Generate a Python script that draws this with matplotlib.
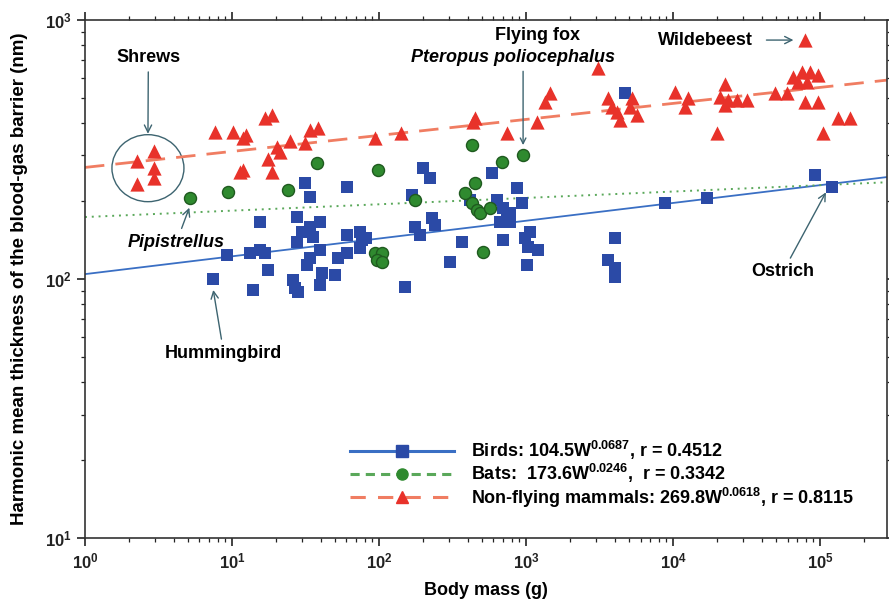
import matplotlib
matplotlib.use("Agg")
import matplotlib.pyplot as plt
from matplotlib.lines import Line2D
from matplotlib.patches import Ellipse
from matplotlib.transforms import ScaledTranslation
import numpy as np

plt.rcParams['font.family'] = ['Liberation Sans', 'DejaVu Sans']
plt.rcParams['font.weight'] = 'bold'
plt.rcParams['mathtext.default'] = 'regular'

# body mass (g) and barrier thickness (nm)
bird_mass = [31.4, 33.9, 60.5, 199, 222, 168, 416, 15.5, 27.7, 39.7, 33.9, 29.9, 35.6, 27.7,
             39.7, 33.9, 32.4, 9.2, 13.3, 15.5, 16.8, 60.5, 74.3, 81.6, 74.3, 60.5, 52.6, 76.6,
             176, 230, 240, 190, 367, 17.6, 40.9, 50.2, 304, 7.4, 13.9, 26.0, 26.8, 28.0, 39.7,
             150, 4710, 587, 869, 635, 698, 778, 939, 665, 778, 743, 698, 985, 1065, 1032, 1207,
             1016, 4030, 3614, 4030, 4030, 8830, 17030, 92500, 120700]
bird_thick = [235, 207, 226, 268, 246, 211, 202, 166, 173, 166, 159, 152, 145, 139,
              129, 121, 113, 124, 126, 129, 126, 148, 152, 144, 132, 126, 121, 141,
              159, 172, 162, 148, 139, 108, 106, 104, 116, 100, 91, 99, 92, 89, 95,
              93, 523, 256, 224, 202, 188, 180, 197, 166, 166, 173, 141, 144, 152, 133, 129,
              113, 144, 118, 110, 102, 197, 206, 252, 226]

bat_mass = [5.2, 9.4, 24.0, 37.8, 98.4, 430, 687, 954, 450, 385, 176, 430, 464, 486, 569,
            94, 104.8, 96.9, 104.8, 510]
bat_thick = [206, 217, 221, 281, 264, 329, 283, 301, 235, 215, 202, 197, 185, 180, 188,
             126, 126, 118, 116, 127]

mam_mass = [2.26, 2.95, 2.95, 2.95, 2.26, 7.7, 10.2, 12.5, 11.9, 16.8, 18.7, 33.9, 38.5, 24.8,
            20.2, 21.2, 31.4, 17.6, 11.3, 11.9, 18.7, 94, 141, 436, 450, 743, 1189, 1455, 1346,
            3090, 3614, 3845, 4158, 4356, 5262, 5690, 5097, 10320, 12650, 12070, 19910, 22590,
            20890, 23660, 27230, 31840, 22590, 49400, 59700, 65500, 75500, 85500, 96900, 70800,
            81600, 79100, 96900, 104800, 132500, 160000, 79100]
mam_thick = [285, 312, 268, 246, 233, 370, 370, 360, 350, 419, 430, 376, 383, 341,
             323, 309, 335, 291, 259, 264, 259, 350, 366, 404, 419, 366, 404, 523, 482,
             653, 500, 461, 442, 411, 500, 430, 461, 527, 500, 461, 366, 566,
             505, 491, 491, 491, 470, 523, 523, 603, 630, 630, 614, 576,
             576, 482, 482, 366, 419, 419, 837]

# allometric fits  a * W^b
fit_a = [104.5, 173.6, 269.8]
fit_b = [0.0687, 0.0246, 0.0618]
fit_labels = [r'Birds: 104.5W$^{0.0687}$, r = 0.4512',
              r'Bats:  173.6W$^{0.0246}$,  r = 0.3342',
              r'Non-flying mammals: 269.8W$^{0.0618}$, r = 0.8115']

blue = '#2b4aa6'
green = '#2f8a2f'
red = '#e8322a'
line_cols = ['#3a6fc4', '#5aa85a', '#f07d62']
line_styles = ['-', (0, (1, 2.5)), (0, (7, 4))]
line_widths = [1.3, 1.4, 2.0]
arrow_col = '#3d6470'

fig = plt.figure(figsize=(8.89, 6.08), dpi=100)
ax = fig.add_axes([0.0956, 0.115, 0.9024, 0.852])
ax.set_xscale('log')
ax.set_yscale('log')
ax.set_xlim(1, 10 ** 5.456)
ax.set_ylim(10, 1000)

xs = np.logspace(0, 5.456, 200)
for a, b, c, ls, lw in zip(fit_a, fit_b, line_cols, line_styles, line_widths):
    ax.plot(xs, a * xs ** b, color=c, linestyle=ls, lw=lw, zorder=2)

ax.scatter(bird_mass, bird_thick, marker='s', s=80, color=blue, linewidths=0, zorder=3)
ax.scatter(mam_mass, mam_thick, marker='^', s=105, color=red, linewidths=0, zorder=4)
ax.scatter(bat_mass, bat_thick, marker='o', s=75, color=green, edgecolors='#1f5a1f',
           linewidths=1.0, zorder=5)

# shrews circle
circ = Ellipse((0, 0), 0.72, 0.67, fill=False, ec=arrow_col, lw=1.0,
               transform=fig.dpi_scale_trans + ScaledTranslation(2.68, 268, ax.transData))
ax.add_patch(circ)

fs = 13
ap = dict(arrowstyle='->', color=arrow_col, lw=1.0, shrinkA=2, shrinkB=2)
ax.annotate('Shrews', xy=(2.68, 355), xytext=(0.079, 0.927), textcoords='axes fraction',
            ha='center', va='center', fontsize=fs, arrowprops=ap)
ax.annotate('Pipistrellus', xy=(5.2, 193), xytext=(0.114, 0.571), textcoords='axes fraction',
            ha='center', va='center', fontsize=fs, style='italic', arrowprops=ap)
ax.annotate('Hummingbird', xy=(7.4, 93), xytext=(0.173, 0.357), textcoords='axes fraction',
            ha='center', va='center', fontsize=fs, arrowprops=ap)
ax.text(0.564, 0.971, 'Flying fox', transform=ax.transAxes, ha='center', va='center',
        fontsize=fs)
ax.text(0.534, 0.927, 'Pteropus poliocephalus', transform=ax.transAxes, ha='center',
        va='center', fontsize=fs, style='italic')
ax.annotate('', xy=(954, 321), xytext=(954, 650), arrowprops=ap)
ax.annotate('Wildebeest', xy=(68700, 837), xytext=(0.773, 0.9614), textcoords='axes fraction',
            ha='center', va='center', fontsize=fs,
            arrowprops=dict(arrowstyle='->', color=arrow_col, lw=1.0, shrinkA=8, shrinkB=2))
ax.annotate('Ostrich', xy=(111700, 221), xytext=(0.870, 0.514), textcoords='axes fraction',
            ha='center', va='center', fontsize=fs, arrowprops=ap)

handles = [
    Line2D([], [], color=line_cols[0], ls='-', lw=2.2, marker='s', ms=8, mfc=blue, mec=blue),
    Line2D([], [], color=line_cols[1], ls=(0, (3, 2)), lw=2.2, marker='o', ms=8, mfc=green,
           mec=green),
    Line2D([], [], color=line_cols[2], ls=(0, (5, 4)), lw=2.2, marker='^', ms=9, mfc=red,
           mec=red),
]
ax.legend(handles, fit_labels, loc='lower left', bbox_to_anchor=(0.33, 0.055), frameon=False,
          fontsize=fs, handlelength=5.8, handletextpad=0.9, labelspacing=0.0, borderpad=0,
          borderaxespad=0, numpoints=1)

ax.set_xlabel('Body mass (g)', fontsize=fs, fontweight='bold', labelpad=8)
ax.set_ylabel('Harmonic mean thickness of the blood-gas barrier (nm)', fontsize=13.5,
              fontweight='bold', labelpad=12)

ax.tick_params(which='both', direction='out', top=True, right=True, labelsize=12,
               colors='#222222')
ax.tick_params(which='major', length=6, width=1.2)
ax.tick_params(which='minor', length=3, width=0.9)
for sp in ax.spines.values():
    sp.set_color('#333333')
    sp.set_linewidth(1.2)

fig.savefig('out.png', dpi=100)
